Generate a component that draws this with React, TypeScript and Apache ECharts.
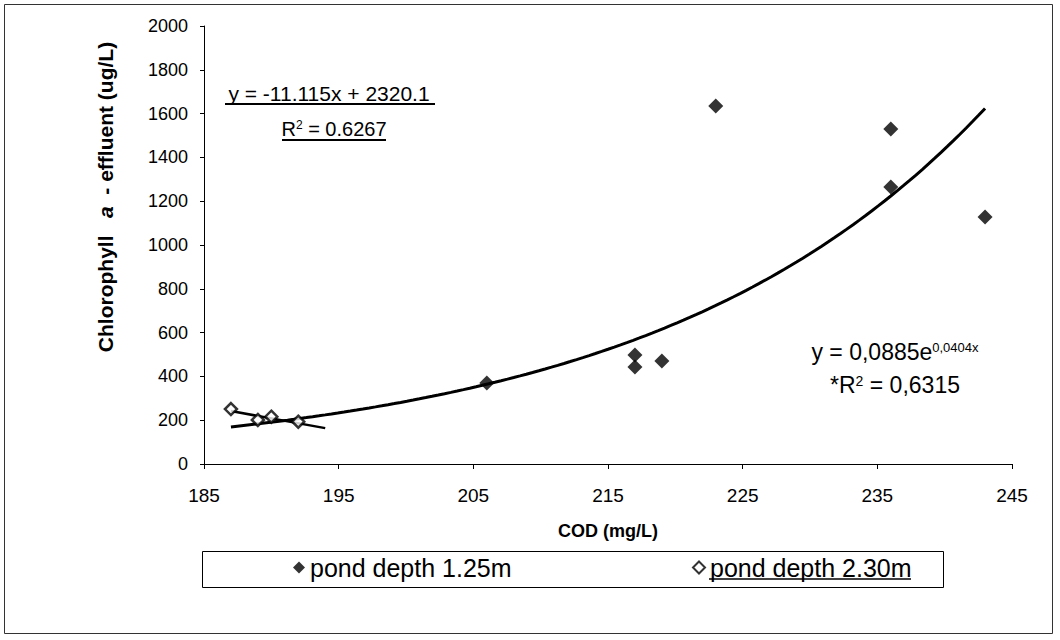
import { useEffect, useRef } from "react";
import * as echarts from "echarts";

// COD (mg/L) and chlorophyll a (ug/L) for each pond depth
const COD_125 = [206, 217, 217, 219, 223, 236, 236, 243];
const CHL_125 = [370, 498, 443, 470, 1635, 1530, 1265, 1128];
const COD_230 = [187, 189, 190, 192];
const CHL_230 = [251, 201, 216, 193];

// Trend-line coefficients as printed on the chart
const EXP_A = 0.0885;
const EXP_B = 0.0404;
const EXP_RANGE = [187, 243];
const LIN_SLOPE = -11.115;
const LIN_INTERCEPT = 2320.1;
const LIN_RANGE = [187, 194];

const X_MIN = 185;
const X_MAX = 245;
const X_STEP = 10;
const Y_MIN = 0;
const Y_MAX = 2000;
const Y_STEP = 200;

const SERIES_NAMES = ["pond depth 1.25m", "pond depth 2.30m"];

const FONT = "'Liberation Sans', Arial, sans-serif";

function expCurve(): number[][] {
  const pts: number[][] = [];
  const n = 120;
  for (let i = 0; i <= n; i++) {
    const x = EXP_RANGE[0] + ((EXP_RANGE[1] - EXP_RANGE[0]) * i) / n;
    pts.push([x, EXP_A * Math.exp(EXP_B * x)]);
  }
  return pts;
}

function linLine(): number[][] {
  return LIN_RANGE.map((x) => [x, LIN_SLOPE * x + LIN_INTERCEPT]);
}

export default function App() {
  const ref = useRef<HTMLDivElement>(null);

  useEffect(() => {
    if (!ref.current) return;
    const chart = echarts.init(ref.current, undefined, { renderer: "svg" });

    chart.setOption({
      animation: false,
      backgroundColor: "#fff",
      textStyle: { fontFamily: FONT, color: "#000" },
      grid: { left: 204, top: 26, width: 808, height: 438, containLabel: false },
      xAxis: {
        type: "value",
        min: X_MIN,
        max: X_MAX,
        interval: X_STEP,
        name: "COD (mg/L)",
        nameLocation: "middle",
        nameGap: 58,
        nameTextStyle: { fontSize: 18, fontWeight: "bold", color: "#000", fontFamily: FONT },
        axisLine: { lineStyle: { color: "#000", width: 1 } },
        axisTick: { show: true, inside: false, length: 5, lineStyle: { color: "#000" } },
        axisLabel: { fontSize: 19, color: "#000", margin: 22, fontFamily: FONT, formatter: (v: number) => String(v) },
        splitLine: { show: false },
      },
      yAxis: {
        type: "value",
        min: Y_MIN,
        max: Y_MAX,
        interval: Y_STEP,
        name: "{b|Chlorophyll}   {i|a}  {b|- effluent (ug/L)}",
        nameLocation: "middle",
        nameGap: 88,
        nameTextStyle: {
          fontSize: 21,
          fontWeight: "bold",
          color: "#000",
          fontFamily: FONT,
          padding: [0, 0, 0, 96],
          rich: {
            b: { fontSize: 21, fontWeight: "bold", color: "#000", fontFamily: FONT },
            i: { fontSize: 21, fontWeight: "bold", fontStyle: "italic", color: "#000", fontFamily: FONT },
          },
        },
        axisLine: { show: true, lineStyle: { color: "#000", width: 1 } },
        axisTick: { show: true, inside: false, length: 4, lineStyle: { color: "#000" } },
        axisLabel: { fontSize: 18, color: "#000", margin: 16, fontFamily: FONT, formatter: (v: number) => String(v) },
        splitLine: { show: false },
      },
      legend: [
        {
          data: [{ name: SERIES_NAMES[0], icon: "diamond" }],
          left: 293,
          top: 555,
          padding: 0,
          itemWidth: 12,
          itemHeight: 12,
          z: 10,
          textStyle: { fontSize: 25, color: "#000", fontFamily: FONT },
        },
        {
          data: [{ name: SERIES_NAMES[1], icon: "diamond" }],
          left: 692,
          top: 555,
          padding: 0,
          itemWidth: 12,
          itemHeight: 12,
          z: 10,
          textStyle: { fontSize: 25, color: "#000", fontFamily: FONT },
        },
      ],
      series: [
        {
          name: "exponential trend",
          type: "line",
          data: expCurve(),
          showSymbol: false,
          lineStyle: { color: "#000", width: 3 },
          z: 2,
          silent: true,
        },
        {
          name: "linear trend",
          type: "line",
          data: linLine(),
          showSymbol: false,
          lineStyle: { color: "#000", width: 2.5 },
          z: 2,
          silent: true,
        },
        {
          name: SERIES_NAMES[0],
          type: "scatter",
          symbol: "diamond",
          symbolSize: 15,
          data: COD_125.map((x, i) => [x, CHL_125[i]]),
          itemStyle: { color: "#000" },
          z: 3,
        },
        {
          name: SERIES_NAMES[1],
          type: "scatter",
          symbol: "diamond",
          symbolSize: 12,
          data: COD_230.map((x, i) => [x, CHL_230[i]]),
          itemStyle: { color: "#fff", borderColor: "#000", borderWidth: 2.5 },
          z: 4,
        },
      ],
      graphic: [
        {
          type: "rect",
          silent: true,
          z: -10,
          shape: { x: 4.5, y: 4.5, width: 1048, height: 629 },
          style: { fill: "none", stroke: "#333", lineWidth: 1 },
        },
        {
          type: "rect",
          silent: true,
          z: 0,
          shape: { x: 202.5, y: 551.5, width: 741, height: 36 },
          style: { fill: "#fff", stroke: "#000", lineWidth: 1 },
        },
        {
          type: "line",
          silent: true,
          shape: { x1: 709, y1: 579, x2: 911, y2: 579 },
          style: { stroke: "#000", lineWidth: 1.5 },
        },
        {
          type: "text",
          x: 329,
          y: 93,
          style: {
            text: "y = -11.115x + 2320.1",
            fontSize: 21,
            fontFamily: FONT,
            fill: "#000",
            textAlign: "center",
            textVerticalAlign: "middle",
          },
        },
        {
          type: "line",
          silent: true,
          shape: { x1: 225, y1: 104, x2: 435, y2: 104 },
          style: { stroke: "#000", lineWidth: 2 },
        },
        {
          type: "text",
          x: 334,
          y: 129,
          style: {
            text: "R{sup|2} = 0.6267",
            fontSize: 20,
            fontFamily: FONT,
            fill: "#000",
            textAlign: "center",
            textVerticalAlign: "middle",
            rich: { sup: { fontSize: 12, fontFamily: FONT, verticalAlign: "top", fill: "#000", color: "#000" } },
          },
        },
        {
          type: "line",
          silent: true,
          shape: { x1: 282, y1: 140, x2: 386, y2: 140 },
          style: { stroke: "#000", lineWidth: 2 },
        },
        {
          type: "text",
          x: 895,
          y: 352,
          style: {
            text: "y = 0,0885e{sup|0,0404x}",
            fontSize: 23,
            fontFamily: FONT,
            fill: "#000",
            textAlign: "center",
            textVerticalAlign: "middle",
            rich: { sup: { fontSize: 13, fontFamily: FONT, verticalAlign: "top", fill: "#000", color: "#000" } },
          },
        },
        {
          type: "text",
          x: 895,
          y: 385,
          style: {
            text: "*R{sup|2} = 0,6315",
            fontSize: 23,
            fontFamily: FONT,
            fill: "#000",
            textAlign: "center",
            textVerticalAlign: "middle",
            rich: { sup: { fontSize: 14, fontFamily: FONT, verticalAlign: "top", fill: "#000", color: "#000" } },
          },
        },
      ],
    });

    return () => chart.dispose();
  }, []);

  return (
    <div
      ref={ref}
      style={{ position: "absolute", left: 0, top: 0, width: 1060, height: 640, background: "#fff" }}
    />
  );
}
